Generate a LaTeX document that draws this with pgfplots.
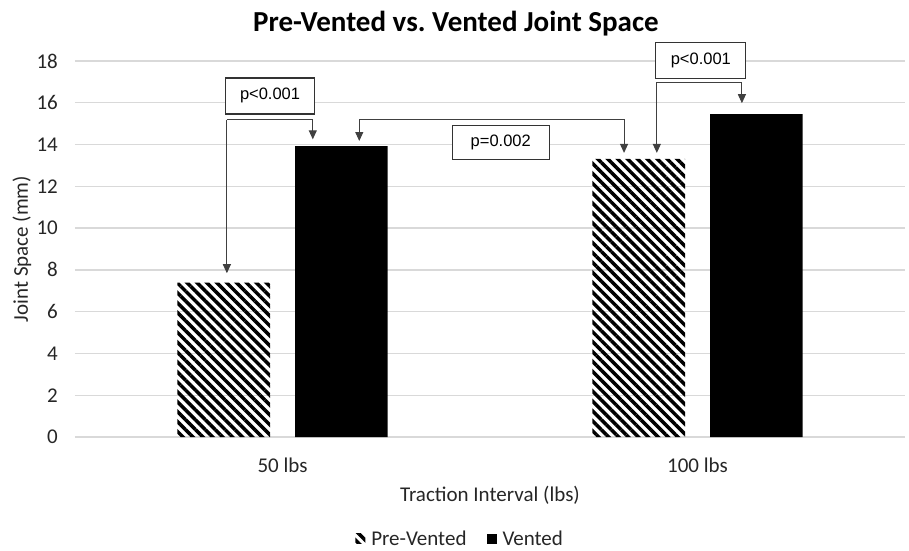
\documentclass[border=0pt]{standalone}
\usepackage{fontspec}
\setmainfont{Carlito}
\newfontfamily\boxfont{Liberation Sans}
\usepackage{pgfplots}
\usepackage{pgfplotstable}
\pgfplotsset{compat=1.18}
\usetikzlibrary{arrows.meta,patterns.meta}

% joint space (mm) per traction interval
\pgfplotstableread{
x pre vented
0 7.39 13.93
1 13.31 15.46
}\jointdata

\begin{document}
\begin{tikzpicture}[
  arr/.style={draw=black!75, line width=1bp, -{Triangle[width=8bp,length=9bp]}},
  pbox/.style={draw=black!80, line width=1.3bp, fill=white, inner sep=0pt,
    font=\boxfont\fontsize{16.5bp}{19bp}\selectfont},
]
\begin{axis}[
  scale only axis, width=830bp, height=376bp,
  clip=false,
  xmin=-0.5, xmax=1.5, ymin=0, ymax=18,
  xtick={0,1}, xticklabels={50 lbs,100 lbs},
  ytick={0,2,...,18},
  axis line style={draw=none},
  major tick length=0pt,
  ymajorgrids, grid style={color=black!15, line width=1.3bp},
  /pgf/number format/assume math mode=true,
  tick label style={font=\fontsize{21bp}{25bp}\selectfont, color=black!85},
  yticklabel style={anchor=east, inner sep=0pt, xshift=-17bp},
  xticklabel style={anchor=base, inner sep=0pt, yshift=-35bp},
  title={Pre-Vented vs.\ Vented Joint Space},
  title style={at={(axis description cs:0.459,1)}, anchor=base, yshift=24bp,
    inner sep=0pt, font=\bfseries\fontsize{29bp}{34bp}\selectfont},
  xlabel={Traction Interval (lbs)},
  xlabel style={at={(axis description cs:0.5,0)}, anchor=base, yshift=-64bp,
    inner sep=0pt, font=\fontsize{21bp}{25bp}\selectfont, color=black!85},
  ylabel={Joint Space (mm)},
  ylabel style={at={(axis description cs:-0.0639,0.5)}, anchor=center,
    inner sep=0pt, font=\fontsize{21bp}{25bp}\selectfont, color=black!85},
  legend columns=2,
  legend style={draw=none, fill=none, at={(axis description cs:0.464,0)},
    anchor=south, yshift=-112bp, inner sep=0pt,
    font=\fontsize{21bp}{25bp}\selectfont, text=black!85,
    /tikz/every odd column/.append style={column sep=4bp},
    /tikz/every even column/.append style={column sep=18bp}},
  legend image code/.code={\fill[#1] (0bp,-5bp) rectangle (10bp,5bp);},
]
\addplot[ybar, bar width=92.6bp, bar shift=-58.8bp, draw=none,
  pattern={Lines[angle=-45,distance=7bp,line width=3.5bp]}, pattern color=black]
  table[x=x, y=pre] {\jointdata};
\addplot[ybar, bar width=92.6bp, bar shift=58.8bp, draw=none, fill=black]
  table[x=x, y=vented] {\jointdata};
\legend{Pre-Vented,Vented}

% 50 lbs: pre vs vented
\draw[arr] (axis cs:-0.134,15.18) -- (axis cs:0.073,15.18) -- (axis cs:0.073,14.25);
\draw[arr] (axis cs:-0.134,15.18) -- (axis cs:-0.134,7.84);
\node[pbox, minimum width=89bp, minimum height=36bp] at (axis cs:-0.030,16.33) {p<0.001};
% vented 50 vs pre 100
\draw[arr] (axis cs:0.823,15.21) -- (axis cs:0.185,15.21) -- (axis cs:0.185,14.17);
\draw[arr] (axis cs:0.823,15.21) -- (axis cs:0.823,13.60);
\node[pbox, minimum width=97bp, minimum height=34bp] at (axis cs:0.526,14.11) {p=0.002};
% 100 lbs: pre vs vented
\draw[arr] (axis cs:0.902,16.98) -- (axis cs:1.107,16.98) -- (axis cs:1.107,15.98);
\draw[arr] (axis cs:0.902,16.98) -- (axis cs:0.902,13.60);
\node[pbox, minimum width=90bp, minimum height=36bp] at (axis cs:1.008,18.02) {p<0.001};
\end{axis}
\pgfresetboundingbox
\path (current axis.south west) ++(-75bp,-114bp) rectangle ++(909bp,551bp);
\end{tikzpicture}
\end{document}
